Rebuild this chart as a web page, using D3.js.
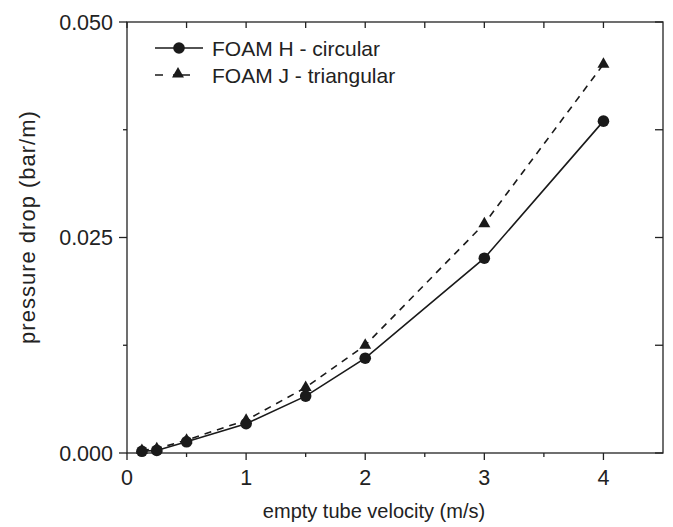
<!DOCTYPE html>
<html>
<head>
<meta charset="utf-8">
<script src="https://cdn.jsdelivr.net/npm/d3@7"></script>
<style>
  body { margin: 0; background: #fff; }
  svg { display: block; font-family: "Liberation Sans", Arial, sans-serif; }
</style>
</head>
<body>
<svg></svg>
<script>
// velocity (m/s)
const velocity = [0.125, 0.25, 0.5, 1, 1.5, 2, 3, 4]
// pressure drop (bar/m)
const foamH = [0.0002, 0.0003, 0.0013, 0.0034, 0.0066, 0.0110, 0.0226, 0.0385]
const foamJ = [0.0003, 0.0005, 0.0015, 0.0038, 0.0076, 0.0125, 0.0266, 0.0451]
const seriesNames = ["FOAM H - circular", "FOAM J - triangular"]
const xTicks = [0, 1, 2, 3, 4]
const yTicks = [0, 0.025, 0.05]

const width = 673, height = 527
const pLeft = 127, pRight = 663, pTop = 22, pBottom = 453

const svg = d3.select("svg")
  .attr("width", width)
  .attr("height", height)

const x = d3.scaleLinear().domain([0, 4.5]).range([pLeft, pRight])
const y = d3.scaleLinear().domain([0, 0.05]).range([pBottom, pTop])

const minorX = d3.range(0.5, 4.5, 1)
const minorY = [0.0125, 0.0375]

// frame
svg.append("rect")
  .attr("x", pLeft).attr("y", pTop)
  .attr("width", pRight - pLeft).attr("height", pBottom - pTop)
  .attr("fill", "none").attr("stroke", "#222").attr("stroke-width", 1.3)

const ticks = svg.append("g").attr("stroke", "#222").attr("stroke-width", 1.3)

// bottom ticks, outward
xTicks.forEach(t => ticks.append("line").attr("x1", x(t)).attr("x2", x(t)).attr("y1", pBottom).attr("y2", pBottom + 7))
minorX.forEach(t => ticks.append("line").attr("x1", x(t)).attr("x2", x(t)).attr("y1", pBottom).attr("y2", pBottom + 4))
// top ticks, inward
xTicks.concat(minorX).forEach(t => ticks.append("line").attr("x1", x(t)).attr("x2", x(t)).attr("y1", pTop).attr("y2", pTop + 6))
// left ticks, outward
yTicks.forEach(t => ticks.append("line").attr("x1", pLeft - 8).attr("x2", pLeft).attr("y1", y(t)).attr("y2", y(t)))
minorY.forEach(t => ticks.append("line").attr("x1", pLeft - 4).attr("x2", pLeft).attr("y1", y(t)).attr("y2", y(t)))
// right ticks, inward
yTicks.concat(minorY).forEach(t => ticks.append("line").attr("x1", pRight - 8).attr("x2", pRight).attr("y1", y(t)).attr("y2", y(t)))

// tick labels
svg.append("g").selectAll("text")
  .data(xTicks)
  .join("text")
    .attr("x", d => x(d))
    .attr("y", pBottom + 32)
    .attr("text-anchor", "middle")
    .attr("font-size", 21.5)
    .attr("fill", "#222")
    .text(d => d)

svg.append("g").selectAll("text")
  .data(yTicks)
  .join("text")
    .attr("x", pLeft - 14)
    .attr("y", d => y(d))
    .attr("dy", "0.36em")
    .attr("text-anchor", "end")
    .attr("font-size", 21.5)
    .attr("fill", "#222")
    .text(d => d3.format(".3f")(d))

// axis titles
svg.append("text")
  .attr("x", 374).attr("y", 518)
  .attr("text-anchor", "middle")
  .attr("font-size", 20)
  .attr("fill", "#222")
  .text("empty tube velocity (m/s)")

svg.append("text")
  .attr("transform", `translate(35, 227) rotate(-90)`)
  .attr("text-anchor", "middle")
  .attr("font-size", 22)
  .attr("letter-spacing", 1)
  .attr("fill", "#222")
  .text("pressure drop (bar/m)")

// lines
const line = d3.line().x(d => x(d[0])).y(d => y(d[1]))
const dataH = velocity.map((v, i) => [v, foamH[i]])
const dataJ = velocity.map((v, i) => [v, foamJ[i]])

svg.append("path")
  .attr("d", line(dataJ))
  .attr("fill", "none").attr("stroke", "#1a1a1a").attr("stroke-width", 1.6)
  .attr("stroke-dasharray", "7,6")

svg.append("path")
  .attr("d", line(dataH))
  .attr("fill", "none").attr("stroke", "#1a1a1a").attr("stroke-width", 1.6)

const tri = d3.symbol().type(d3.symbolTriangle).size(62)

svg.append("g").selectAll("path")
  .data(dataJ)
  .join("path")
    .attr("transform", d => `translate(${x(d[0])},${y(d[1])})`)
    .attr("d", tri)
    .attr("fill", "#1a1a1a")

svg.append("g").selectAll("circle")
  .data(dataH)
  .join("circle")
    .attr("cx", d => x(d[0]))
    .attr("cy", d => y(d[1]))
    .attr("r", 5.8)
    .attr("fill", "#1a1a1a")

// legend
const lg = svg.append("g")
lg.append("line").attr("x1", 155).attr("x2", 203).attr("y1", 48).attr("y2", 48)
  .attr("stroke", "#1a1a1a").attr("stroke-width", 1.6)
lg.append("circle").attr("cx", 179).attr("cy", 48).attr("r", 5.8).attr("fill", "#1a1a1a")
lg.append("line").attr("x1", 155).attr("x2", 190).attr("y1", 75).attr("y2", 75)
  .attr("stroke", "#1a1a1a").attr("stroke-width", 1.6).attr("stroke-dasharray", "8,10,17,100")
lg.append("path").attr("transform", "translate(178,74)").attr("d", tri).attr("fill", "#1a1a1a")
lg.selectAll("text")
  .data(seriesNames)
  .join("text")
    .attr("x", 212)
    .attr("y", (d, i) => 48 + i * 27)
    .attr("dy", "0.36em")
    .attr("font-size", 21)
    .attr("fill", "#222")
    .text(d => d)
</script>
</body>
</html>
